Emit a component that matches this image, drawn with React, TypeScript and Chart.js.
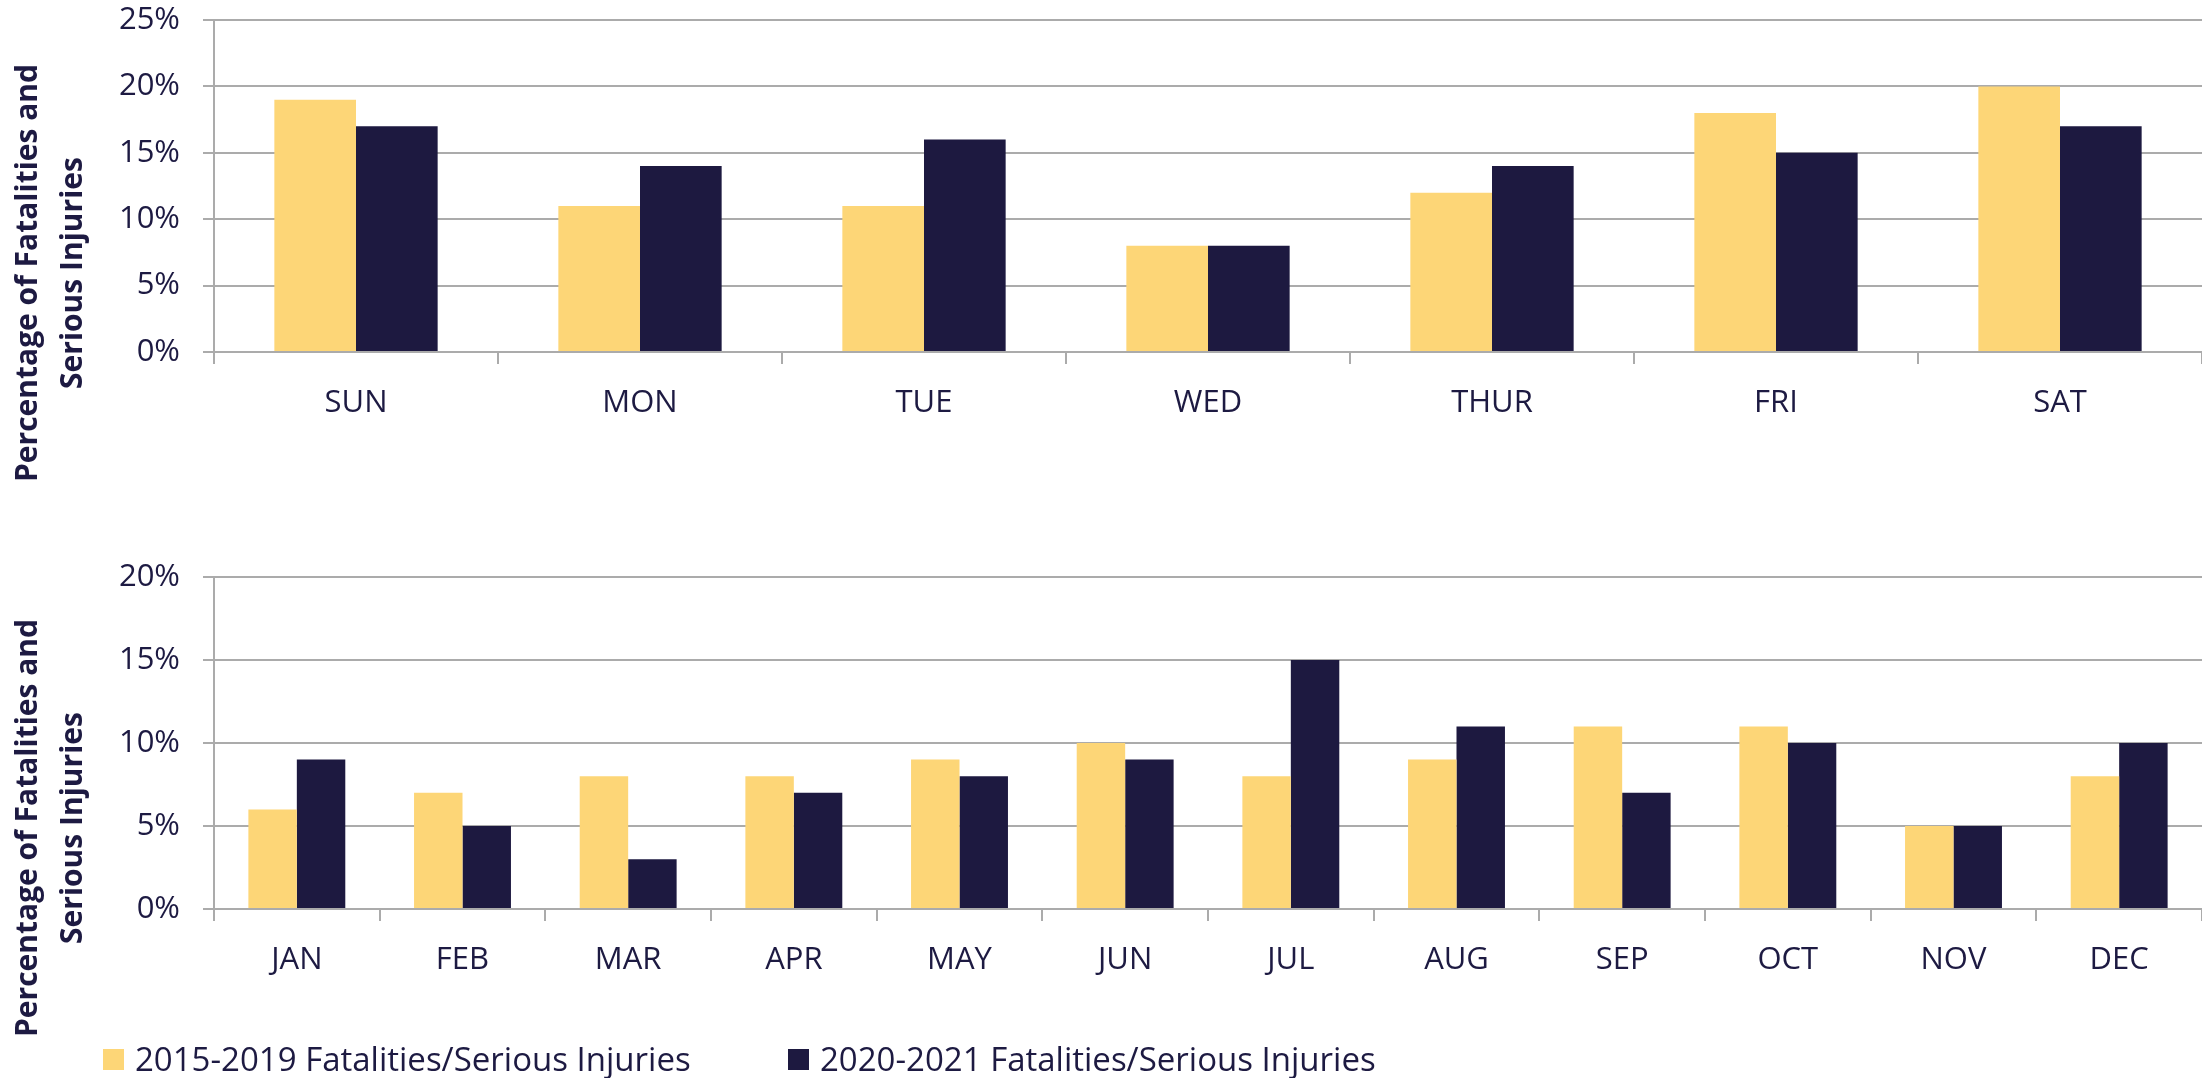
import React, { useEffect, useRef } from "react";
import { Chart, registerables } from "chart.js";

Chart.register(...registerables);

// ---- data ----
const dayLabels = ["SUN", "MON", "TUE", "WED", "THUR", "FRI", "SAT"];
const day2015to2019 = [19, 11, 11, 8, 12, 18, 20];
const day2020to2021 = [17, 14, 16, 8, 14, 15, 17];

const monthLabels = ["JAN", "FEB", "MAR", "APR", "MAY", "JUN", "JUL", "AUG", "SEP", "OCT", "NOV", "DEC"];
const month2015to2019 = [6, 7, 8, 8, 9, 10, 8, 9, 11, 11, 5, 8];
const month2020to2021 = [9, 5, 3, 7, 8, 9, 15, 11, 7, 10, 5, 10];

const seriesNames = ["2015-2019 Fatalities/Serious Injuries", "2020-2021 Fatalities/Serious Injuries"];
const yTitleLines = ["Percentage of Fatalities and", "Serious Injuries"];
const dayAxisMax = 25;
const monthAxisMax = 20;
const tickStep = 5;

// ---- style ----
const FONT = '"Open Sans", "Noto Sans", sans-serif';
const TEXT = "#1D1A42";
const GRID = "#ABABAB";
const YELLOW = "#FDD677";
const NAVY = "#1D1940";

const yTitlePlugin = {
  id: "yTitle",
  afterDraw(chart: any, _args: any, opts: any) {
    const ctx = chart.ctx;
    ctx.save();
    ctx.font = `bold 30px ${FONT}`;
    ctx.fillStyle = TEXT;
    ctx.textAlign = "center";
    ctx.textBaseline = "middle";
    (opts.lines as string[]).forEach((line, i) => {
      ctx.save();
      ctx.translate(opts.xs[i], opts.cy);
      ctx.rotate(-Math.PI / 2);
      ctx.fillText(line, 0, 0);
      ctx.restore();
    });
    ctx.restore();
  },
};

type PanelProps = {
  labels: string[];
  a: number[];
  b: number[];
  max: number;
  width: number;
  height: number;
  padTop: number;
  padBottom: number;
  titleCy: number;
  catPct: number;
  xPad: number;
};

function BarPanel(p: PanelProps) {
  const ref = useRef<HTMLCanvasElement | null>(null);
  useEffect(() => {
    if (!ref.current) return;
    const chart = new Chart(ref.current, {
      type: "bar",
      data: {
        labels: p.labels,
        datasets: [
          { label: seriesNames[0], data: p.a, backgroundColor: YELLOW, borderWidth: 0 },
          { label: seriesNames[1], data: p.b, backgroundColor: NAVY, borderWidth: 0 },
        ],
      },
      options: {
        responsive: false,
        animation: false,
        devicePixelRatio: 1,
        datasets: { bar: { categoryPercentage: p.catPct, barPercentage: 1.0 } },
        layout: { padding: { top: p.padTop, bottom: p.padBottom, left: 0, right: 0 } },
        plugins: {
          legend: { display: false },
          tooltip: { enabled: false },
          yTitle: { lines: yTitleLines, xs: [28, 73], cy: p.titleCy },
        } as any,
        scales: {
          x: {
            grid: {
              display: true,
              drawOnChartArea: false,
              drawTicks: true,
              tickLength: 12,
              color: GRID,
              lineWidth: 2,
              offset: true,
            },
            border: { display: true, color: GRID, width: 2 },
            ticks: { color: TEXT, font: { family: FONT, size: 31 }, padding: p.xPad, maxRotation: 0, autoSkip: false },
            afterFit: (s: any) => {
              s.height = 80;
              s.paddingLeft = 0;
              s.paddingRight = 0;
              s.paddingTop = 0;
              s.paddingBottom = 0;
            },
          },
          y: {
            min: 0,
            max: p.max,
            ticks: {
              stepSize: tickStep,
              callback: (v: any) => v + "%",
              color: TEXT,
              font: { family: FONT, size: 31 },
              padding: 23,
            },
            grid: { color: GRID, lineWidth: 2, tickLength: 11, drawTicks: true },
            border: { display: true, color: GRID, width: 2 },
            afterFit: (s: any) => {
              s.width = 214;
              s.paddingTop = 0;
              s.paddingBottom = 0;
              s.paddingLeft = 0;
              s.paddingRight = 0;
            },
          },
        },
      },
      plugins: [yTitlePlugin],
    });
    return () => chart.destroy();
  }, []);
  return <canvas ref={ref} width={p.width} height={p.height} style={{ display: "block", width: p.width, height: p.height }} />;
}

function LegendItem({ color, text, x }: { color: string; text: string; x: number }) {
  return (
    <div style={{ position: "absolute", left: x, top: 1038, height: 42, display: "flex", alignItems: "center" }}>
      <div style={{ width: 21, height: 21, background: color, marginRight: 11 }} />
      <span style={{ fontFamily: FONT, fontSize: 33, color: TEXT, whiteSpace: "nowrap", lineHeight: "42px" }}>{text}</span>
    </div>
  );
}

export default function App() {
  return (
    <div style={{ position: "absolute", left: 0, top: 0, width: 2202, height: 1078, background: "#fff", overflow: "hidden" }}>
      <div style={{ position: "absolute", left: 0, top: 0 }}>
        <BarPanel
          labels={dayLabels}
          a={day2015to2019}
          b={day2020to2021}
          max={dayAxisMax}
          width={2202}
          height={540}
          padTop={20}
          padBottom={540 - 352 - 80}
          titleCy={273}
          catPct={0.575}
          xPad={21}
        />
      </div>
      <div style={{ position: "absolute", left: 0, top: 540 }}>
        <BarPanel
          labels={monthLabels}
          a={month2015to2019}
          b={month2020to2021}
          max={monthAxisMax}
          width={2202}
          height={538}
          padTop={37}
          padBottom={538 - 369 - 80}
          titleCy={288}
          catPct={0.585}
          xPad={21}
        />
      </div>
      <LegendItem color={YELLOW} text={seriesNames[0]} x={103} />
      <LegendItem color={NAVY} text={seriesNames[1]} x={788} />
    </div>
  );
}
